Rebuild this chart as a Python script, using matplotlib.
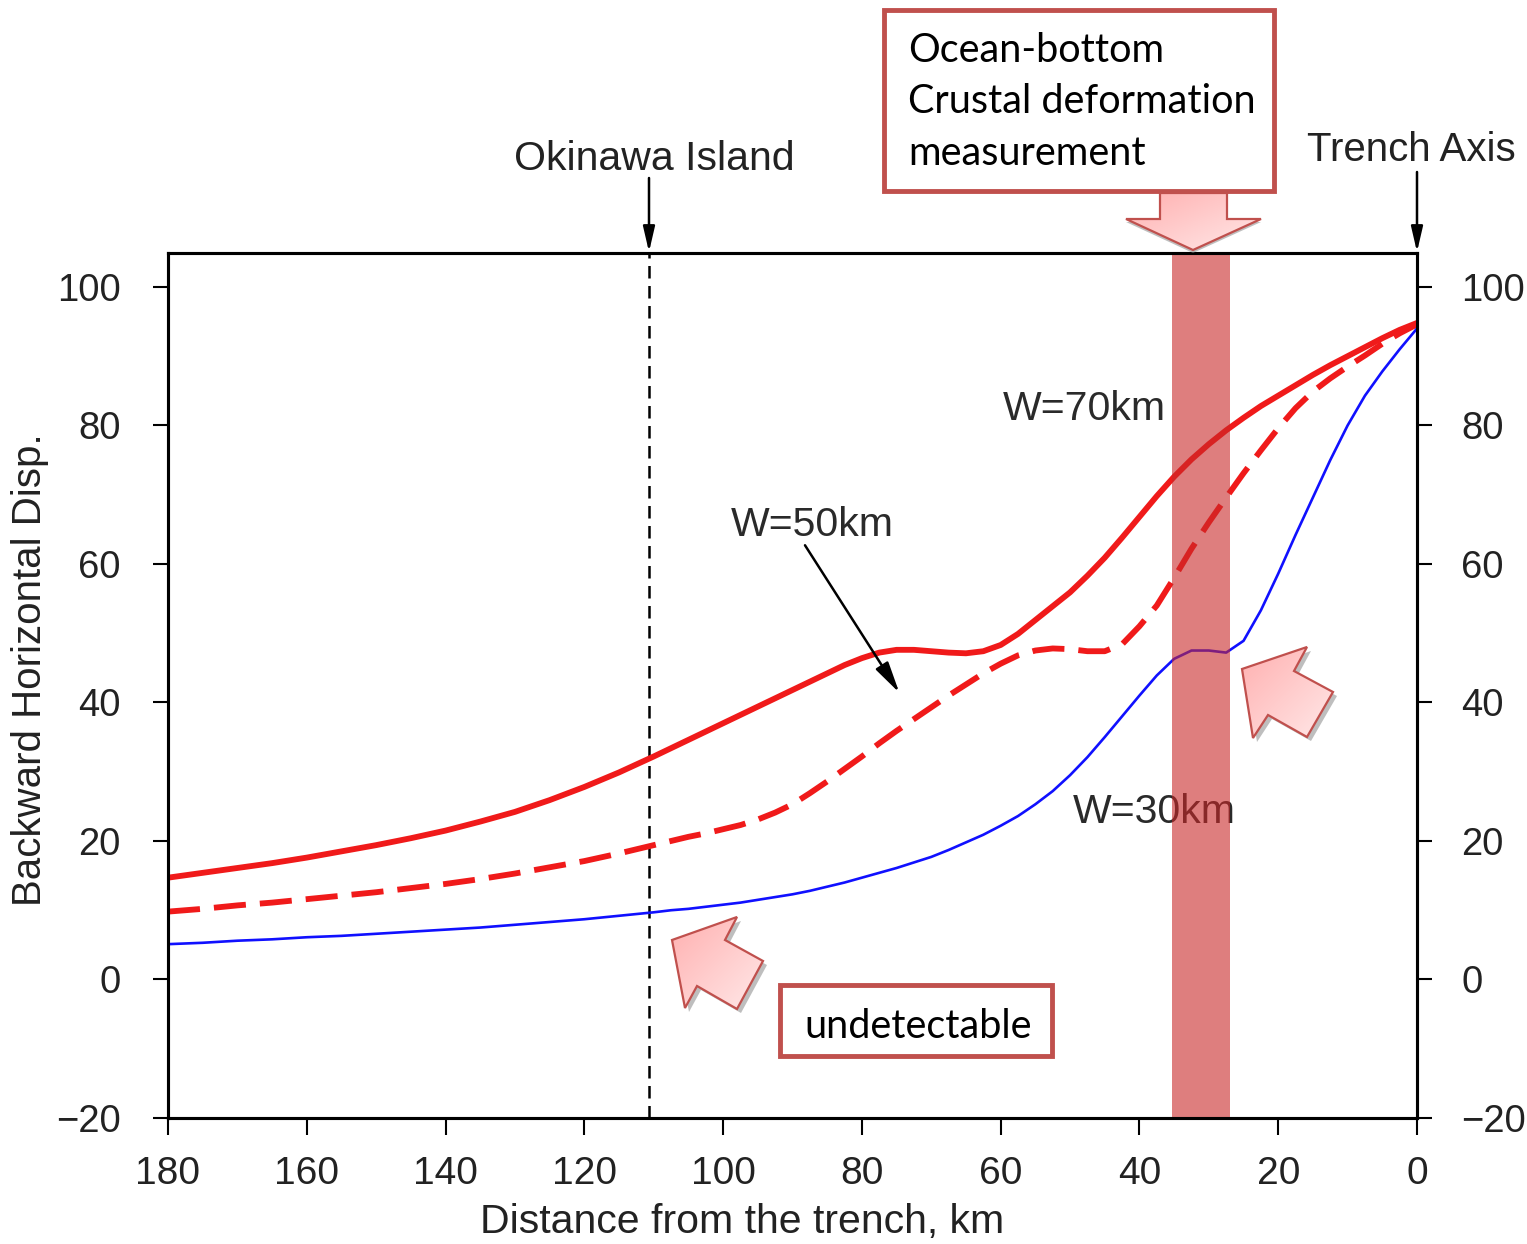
import matplotlib
matplotlib.use('Agg')
import matplotlib.pyplot as plt
import numpy as np
from matplotlib.patches import Polygon, Rectangle
from matplotlib.colors import LinearSegmentedColormap

# ---------------- data ----------------
distance_km = [180, 175, 170, 165, 160, 155, 150, 145, 140, 135, 130, 125, 120, 115, 110,
               107.5, 105, 102.5, 100, 97.5, 95, 92.5, 90, 87.5, 85, 82.5, 80, 77.5, 75,
               72.5, 70, 67.5, 65, 62.5, 60, 57.5, 55, 52.5, 50, 47.5, 45, 42.5, 40,
               37.5, 35, 32.5, 30, 27.5, 25, 22.5, 20, 17.5, 15, 12.5, 10, 7.5, 5, 2.5, 0]
w70 = [14.7, 15.4, 16.1, 16.8, 17.6, 18.5, 19.4, 20.4, 21.5, 22.8, 24.2, 25.9, 27.8, 29.9, 32.2,
       33.4, 34.6, 35.8, 37.0, 38.2, 39.4, 40.6, 41.8, 43.0, 44.2, 45.4, 46.4, 47.2, 47.6,
       47.6, 47.4, 47.2, 47.1, 47.4, 48.3, 49.9, 51.9, 53.9, 55.9, 58.3, 60.9, 63.8, 66.8,
       69.8, 72.6, 75.1, 77.3, 79.3, 81.1, 82.8, 84.3, 85.8, 87.3, 88.7, 90.0, 91.3, 92.6, 93.8, 94.8]
w50 = [9.8, 10.2, 10.7, 11.1, 11.6, 12.1, 12.6, 13.2, 13.8, 14.5, 15.3, 16.2, 17.1, 18.2, 19.4,
       20.0, 20.6, 21.1, 21.7, 22.3, 23.1, 24.1, 25.3, 26.9, 28.6, 30.4, 32.2, 34.1, 35.9,
       37.6, 39.3, 41.0, 42.6, 44.2, 45.6, 46.8, 47.5, 47.8, 47.7, 47.4, 47.4, 48.4, 51.0,
       54.0, 58.0, 62.2, 66.0, 69.6, 73.1, 76.4, 79.6, 82.5, 84.9, 86.8, 88.5, 90.1, 91.8, 93.3, 94.6]
w30 = [5.1, 5.3, 5.6, 5.8, 6.1, 6.3, 6.6, 6.9, 7.2, 7.5, 7.9, 8.3, 8.7, 9.2, 9.7,
       10.0, 10.2, 10.5, 10.8, 11.1, 11.5, 11.9, 12.3, 12.8, 13.4, 14.0, 14.7, 15.4, 16.1,
       16.9, 17.7, 18.7, 19.8, 20.9, 22.2, 23.6, 25.3, 27.2, 29.5, 32.1, 35.0, 38.0, 41.0,
       43.9, 46.3, 47.5, 47.5, 47.2, 48.9, 53.3, 58.6, 64.2, 69.6, 75.0, 80.0, 84.3, 87.8, 91.0, 94.0]

x_ticks = [180, 160, 140, 120, 100, 80, 60, 40, 20, 0]
y_ticks = [-20, 0, 20, 40, 60, 80, 100]
okinawa_km = 110.7
band_km = (26.9, 35.3)
curve_labels = ["W=70km", "W=50km", "W=30km"]

# ---------------- figure ----------------
W, H = 1527, 1244
fig = plt.figure(figsize=(W / 100, H / 100), dpi=100)
fig.patch.set_facecolor('white')

ax = fig.add_axes([168 / W, (H - 1118) / H, (1417 - 168) / W, (1118 - 253) / H])
ax.set_xlim(180, 0)
ax.set_ylim(-20, 104.9)

RED = '#f01a1a'
ax.plot(distance_km, w70, color=RED, lw=4.2, solid_joinstyle='round', zorder=3)
ax.plot(distance_km, w50, color=RED, lw=4.2, dashes=(5.5, 2.4), zorder=3)
ax.plot(distance_km, w30, color='#1010ff', lw=1.9, solid_joinstyle='round', zorder=3)

ax.axvline(okinawa_km, color='black', lw=1.8, dashes=(5, 3), zorder=2)
ax.axvspan(band_km[0], band_km[1], color=(200 / 255, 40 / 255, 40 / 255), alpha=0.6, lw=0, zorder=4)

lab_font = 'Liberation Sans'
FS = 29.5
ax.text(48.0, 82.4, curve_labels[0], fontsize=FS, family=lab_font, color='#2a2a2a', ha='center', va='center', zorder=3.5)
ax.text(87.2, 65.6, curve_labels[1], fontsize=FS, family=lab_font, color='#2a2a2a', ha='center', va='center', zorder=5)
ax.text(37.8, 24.2, curve_labels[2], fontsize=FS, family=lab_font, color='#2a2a2a', ha='center', va='center', zorder=3.5)

ax.annotate('', xy=(74.6, 41.4), xytext=(88.2, 62.7),
            arrowprops=dict(arrowstyle='-|>,head_length=0.95,head_width=0.22', color='black',
                            lw=1.8, shrinkA=0, shrinkB=0, mutation_scale=20), zorder=5)

ax.set_xticks(x_ticks)
ax.set_xticklabels([str(v) for v in x_ticks])
ax.set_yticks(y_ticks)
ax.set_yticklabels([('\u2212' + str(-v)) if v < 0 else str(v) for v in y_ticks])
for sp in ax.spines.values():
    sp.set_linewidth(2.2)
ax.tick_params(axis='x', direction='out', length=12, width=1.5, pad=15,
               labelsize=28, labelcolor='#222222')
ax.tick_params(axis='y', direction='out', length=11, width=1.5, pad=23,
               labelsize=27.5, labelcolor='#222222', left=True, right=False)
for t in ax.get_xticklabels() + ax.get_yticklabels():
    t.set_family(lab_font)

ax2 = ax.twinx()
ax2.set_ylim(ax.get_ylim())
ax2.set_yticks(y_ticks)
ax2.set_yticklabels([('\u2212' + str(-v)) if v < 0 else str(v) for v in y_ticks])
ax2.tick_params(axis='y', direction='out', length=11, width=1.5, pad=21,
                labelsize=27.5, labelcolor='#222222')
for t in ax2.get_yticklabels():
    t.set_family(lab_font)
for sp in ax2.spines.values():
    sp.set_linewidth(2.2)

ax.set_xlabel('Distance from the trench, km', fontsize=FS, family=lab_font, color='#222222')
ax.xaxis.set_label_coords((742 - 168) / (1417 - 168), (1118 - 1203) / (1118 - 253))
ax.set_ylabel('Backward Horizontal Disp.', fontsize=29, family=lab_font, color='#222222')
ax.yaxis.set_label_coords((49 - 168) / (1417 - 168), (1118 - 670) / (1118 - 253))

# ---------------- overlay (pixel coordinates) ----------------
ov = fig.add_axes([0, 0, 1, 1], zorder=10)
ov.set_xlim(0, W)
ov.set_ylim(H, 0)
ov.axis('off')
ov.patch.set_alpha(0)

ov.text(654, 170, 'Okinawa Island', fontsize=FS, family=lab_font, color='#222222', ha='center', va='baseline')
ov.text(1411, 161, 'Trench Axis', fontsize=29, family=lab_font, color='#222222', ha='center', va='baseline')
for xa, y0 in [(649, 178), (1417, 172)]:
    ov.annotate('', xy=(xa, 252), xytext=(xa, y0),
                arrowprops=dict(arrowstyle='-|>,head_length=0.95,head_width=0.22', color='black',
                                lw=1.8, shrinkA=0, shrinkB=0, mutation_scale=16))

BOX = '#c0504d'
ov.add_patch(Rectangle((884, 10), 390, 181, facecolor='white', edgecolor=BOX, lw=3.5))
note_font = 'Lato'
NFS = 28.5
for txt, yb in [('Ocean-bottom', 62), ('Crustal deformation', 113), ('measurement', 165)]:
    ov.text(908, yb, txt, fontsize=NFS, family=note_font, color='black', ha='left', va='baseline')

ov.add_patch(Rectangle((780, 985), 272, 71, facecolor='white', edgecolor=BOX, lw=3.5))
ov.text(918, 1038, 'undetectable', fontsize=NFS, family=note_font, color='black', ha='center', va='baseline')

grad_cmap = LinearSegmentedColormap.from_list('g', ['#ffb0b0', '#ffe8e8'])


def block_arrow(pts, shadow=(4, 4)):
    pts = np.array(pts, dtype=float)
    sh = Polygon(pts + np.array(shadow), closed=True, facecolor='#8a8a8a', edgecolor='none', alpha=0.55)
    ov.add_patch(sh)
    poly = Polygon(pts, closed=True, facecolor='none', edgecolor=BOX, lw=1.6, zorder=3)
    ov.add_patch(poly)
    x0, x1 = pts[:, 0].min(), pts[:, 0].max()
    y0, y1 = pts[:, 1].min(), pts[:, 1].max()
    gx, gy = np.meshgrid(np.linspace(0, 1, 64), np.linspace(0, 1, 64))
    g = (gx + gy) / 2
    im = ov.imshow(g, cmap=grad_cmap, extent=[x0, x1, y1, y0], origin='upper',
                   aspect='auto', zorder=2, interpolation='bilinear')
    clip = Polygon(pts, closed=True, transform=ov.transData)
    im.set_clip_path(clip)


# down arrow under the measurement box
block_arrow([(1160, 193), (1227, 193), (1227, 219), (1261, 219), (1193, 250),
             (1126, 219), (1160, 219)], shadow=(0, 3))
# arrow pointing at W=30 bump
block_arrow([(1242, 669), (1307, 647), (1294, 671), (1333, 692), (1307, 737),
             (1268, 715), (1253, 738)])
# arrow pointing at Okinawa
block_arrow([(672, 940), (737, 917), (725, 940), (763, 961), (737, 1009),
             (697, 986), (685, 1008)])

ov.set_xlim(0, W)
ov.set_ylim(H, 0)

fig.savefig('out.png', dpi=100)
